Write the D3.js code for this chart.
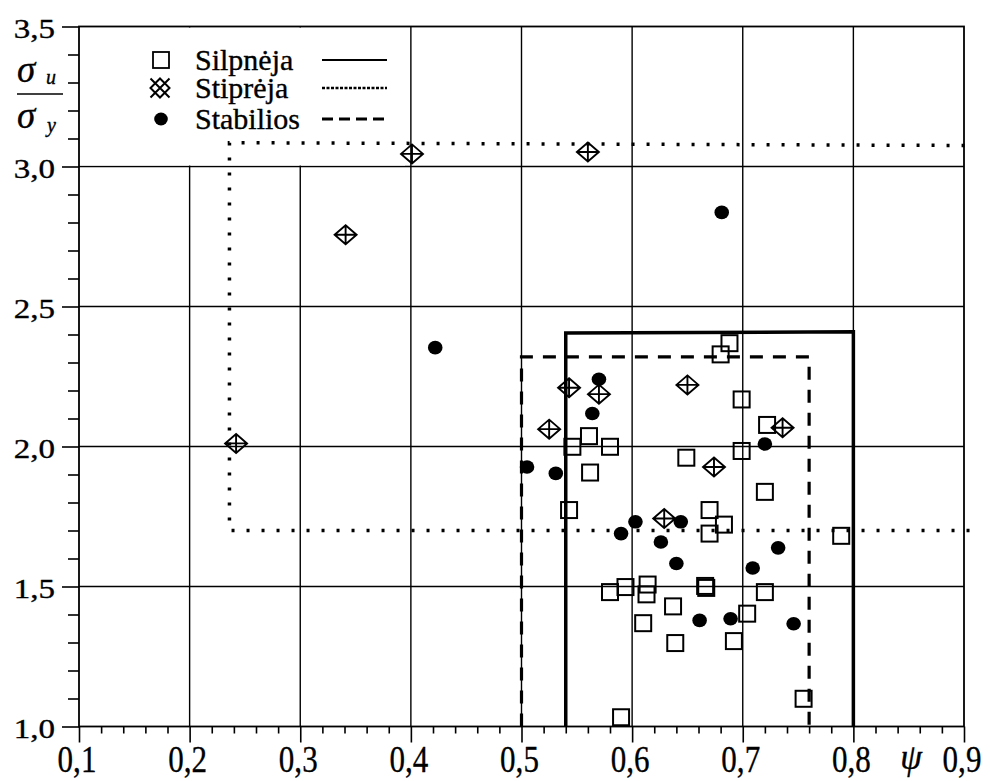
<!DOCTYPE html>
<html>
<head>
<meta charset="utf-8">
<script src="https://cdn.jsdelivr.net/npm/d3@7"></script>
<style>
  body { margin: 0; background: #fff; }
</style>
</head>
<body>
<svg id="chart" width="990" height="781" font-family="'Liberation Serif', 'DejaVu Serif', serif"></svg>
<script>
// Axis ticks
const xMajorTicks = [0.1, 0.2, 0.3, 0.4, 0.5, 0.6, 0.7, 0.8, 0.9];
const yMajorTicks = [1.0, 1.5, 2.0, 2.5, 3.0, 3.5];
const xMinorTicks = [0.12,0.14,0.16,0.18,0.22,0.24,0.26,0.28,0.32,0.34,0.36,0.38,0.42,0.44,0.46,0.48,
                     0.52,0.54,0.56,0.58,0.62,0.64,0.66,0.68,0.72,0.74,0.76,0.78,0.82,0.84,0.86,0.88];
const yMinorTicks = [1.1,1.2,1.3,1.4,1.6,1.7,1.8,1.9,2.1,2.2,2.3,2.4,2.6,2.7,2.8,2.9,3.1,3.2,3.3,3.4];

// Series: [psi, sigma_u / sigma_y]
const silpneja = [
  [0.543, 1.773], [0.561, 2.037], [0.546, 1.999], [0.580, 1.999], [0.562, 1.907],
  [0.688, 2.369], [0.680, 2.329], [0.699, 2.168], [0.722, 2.077], [0.699, 1.984],
  [0.649, 1.960], [0.720, 1.838], [0.670, 1.773], [0.683, 1.721], [0.670, 1.689],
  [0.789, 1.681], [0.666, 1.502], [0.667, 1.495], [0.720, 1.480], [0.704, 1.403],
  [0.692, 1.305], [0.755, 1.099], [0.580, 1.480], [0.594, 1.498], [0.614, 1.507],
  [0.613, 1.472], [0.637, 1.429], [0.610, 1.369], [0.639, 1.298], [0.590, 1.033]
];
const stipreja = [
  [0.242, 2.011], [0.341, 2.756], [0.401, 3.045], [0.560, 3.052], [0.543, 2.210],
  [0.570, 2.187], [0.525, 2.062], [0.650, 2.220], [0.736, 2.067], [0.674, 1.927],
  [0.629, 1.743]
];
const stabilios = [
  [0.422, 2.353], [0.681, 2.836], [0.570, 2.240], [0.564, 2.118], [0.505, 1.927],
  [0.531, 1.904], [0.720, 2.009], [0.603, 1.731], [0.644, 1.731], [0.590, 1.689],
  [0.626, 1.659], [0.732, 1.638], [0.640, 1.582], [0.709, 1.566], [0.661, 1.379],
  [0.689, 1.385], [0.746, 1.367]
];

// Region boundaries
const silpnejaBound  = [[0.54, 1.0], [0.54, 2.405], [0.80, 2.41], [0.80, 1.0]];
const stabiliosBound = [[0.50, 1.0], [0.50, 2.32], [0.76, 2.32], [0.76, 1.0]];
const stiprejaBound  = [[0.905, 1.70], [0.236, 1.70], [0.236, 3.085], [0.905, 3.075]];

const legendNames = ["Silpnėja", "Stiprėja", "Stabilios"];

const FONT = "'Liberation Serif', 'DejaVu Serif', serif";
const svg = d3.select("#chart");
const x = d3.scaleLinear().domain([0.1, 0.9]).range([79, 964]);
const y = d3.scaleLinear().domain([1.0, 3.5]).range([726.5, 26.5]);
const fmt = v => d3.format(".1f")(v).replace(".", ",");

// grid
const grid = svg.append("g").attr("stroke", "#000").attr("stroke-width", 1.4);
grid.selectAll("line.v").data(xMajorTicks.slice(1, -1)).join("line")
  .attr("x1", d => x(d)).attr("x2", d => x(d))
  .attr("y1", y(1.0)).attr("y2", y(3.5));
grid.selectAll("line.h").data(yMajorTicks.slice(1, -1)).join("line")
  .attr("x1", x(0.1)).attr("x2", x(0.9))
  .attr("y1", d => y(d)).attr("y2", d => y(d));

// legend background
svg.append("rect").attr("x", x(0.1) + 1).attr("y", y(3.5) + 1)
  .attr("width", 325).attr("height", y(3.0) - y(3.5) - 2).attr("fill", "#fff");

// axes: ticks
const xMajAxis = d3.axisBottom(x).tickValues(xMajorTicks).tickSize(16).tickFormat("");
const xMinAxis = d3.axisBottom(x).tickValues(xMinorTicks).tickSize(7).tickFormat("");
const yMajAxis = d3.axisLeft(y).tickValues(yMajorTicks).tickSize(17).tickFormat("");
const yMinAxis = d3.axisLeft(y).tickValues(yMinorTicks).tickSize(11).tickFormat("");
[xMajAxis, xMinAxis].forEach(a => svg.append("g").attr("transform", `translate(0,${y(1.0)})`).call(a));
[yMajAxis, yMinAxis].forEach(a => svg.append("g").attr("transform", `translate(${x(0.1)},0)`).call(a));
svg.selectAll(".domain").remove();
svg.selectAll(".tick line").attr("stroke", "#000").attr("stroke-width", 1.6);

// frame
svg.append("rect").attr("x", x(0.1)).attr("y", y(3.5))
  .attr("width", x(0.9) - x(0.1)).attr("height", y(1.0) - y(3.5))
  .attr("fill", "none").attr("stroke", "#000").attr("stroke-width", 1.8);

const txt = (sel) => sel.attr("font-family", FONT).attr("fill", "#000")
  .attr("stroke", "#000").attr("stroke-width", 0.35);

// tick labels
svg.selectAll("text.xl").data(xMajorTicks).join("text").call(txt)
  .attr("transform", d => `translate(${x(d) - 2},772) scale(0.84,1)`)
  .attr("text-anchor", "middle").attr("font-size", 37).text(fmt);
svg.selectAll("text.yl").data(yMajorTicks).join("text").call(txt)
  .attr("transform", d => `translate(55,${y(d) + 11.5}) scale(1.2,1)`)
  .attr("text-anchor", "end").attr("font-size", 27.5).text(fmt);

// axis titles
svg.append("text").call(txt).attr("x", 911).attr("y", 769).attr("text-anchor", "middle")
  .attr("font-size", 35).attr("font-style", "italic").text("ψ");
svg.append("text").call(txt).attr("x", 17).attr("y", 82).attr("font-size", 37).attr("font-style", "italic").text("σ");
svg.append("text").call(txt).attr("x", 46).attr("y", 84).attr("font-size", 20).attr("font-style", "italic").text("u");
svg.append("line").attr("x1", 17).attr("x2", 63).attr("y1", 94).attr("y2", 94)
  .attr("stroke", "#000").attr("stroke-width", 1.6);
svg.append("text").call(txt).attr("x", 17).attr("y", 128).attr("font-size", 37).attr("font-style", "italic").text("σ");
svg.append("text").call(txt).attr("x", 47).attr("y", 132).attr("font-size", 20).attr("font-style", "italic").text("y");

// boundary lines
const line = d3.line().x(d => x(d[0])).y(d => y(d[1]));
svg.append("path").attr("d", line(stiprejaBound)).attr("fill", "none")
  .attr("stroke", "#000").attr("stroke-width", 3.5).attr("stroke-dasharray", "3,12");
svg.append("path").attr("d", line(stabiliosBound)).attr("fill", "none")
  .attr("stroke", "#000").attr("stroke-width", 3.2).attr("stroke-dasharray", "13,10");
svg.append("path").attr("d", line(silpnejaBound)).attr("fill", "none")
  .attr("stroke", "#000").attr("stroke-width", 3.5);

// markers
const sq = 16;
svg.append("g").selectAll("rect").data(silpneja).join("rect")
  .attr("x", d => x(d[0]) - sq / 2).attr("y", d => y(d[1]) - sq / 2)
  .attr("width", sq).attr("height", sq)
  .attr("fill", "none").attr("stroke", "#000").attr("stroke-width", 2);

const dw = 11, dh = 9.5;
const diamondPath = `M0,${-dh}L${dw},0L0,${dh}L${-dw},0Z M0,${-dh}V${dh} M${-dw},0H${dw}`;
svg.append("g").selectAll("path").data(stipreja).join("path")
  .attr("transform", d => `translate(${x(d[0])},${y(d[1])})`)
  .attr("d", diamondPath).attr("fill", "none").attr("stroke", "#000").attr("stroke-width", 1.9);

svg.append("g").selectAll("ellipse").data(stabilios).join("ellipse")
  .attr("cx", d => x(d[0])).attr("cy", d => y(d[1]))
  .attr("rx", 7.3).attr("ry", 6.8).attr("fill", "#000");

// legend
const lg = svg.append("g");
const rowsY = [60, 88, 119];
lg.append("rect").attr("x", 153).attr("y", rowsY[0] - 8).attr("width", 16).attr("height", 16)
  .attr("fill", "none").attr("stroke", "#000").attr("stroke-width", 1.8);
const s = 9.5;
lg.append("path").attr("transform", `translate(160,${rowsY[1]})`)
  .attr("d", `M${-s},${-s}L${s},${s}M${s},${-s}L${-s},${s}M0,${-s}L${s},0L0,${s}L${-s},0Z`)
  .attr("fill", "none").attr("stroke", "#000").attr("stroke-width", 2);
lg.append("ellipse").attr("cx", 161).attr("cy", rowsY[2]).attr("rx", 6.8).attr("ry", 6.5).attr("fill", "#000");
lg.selectAll("text").data(legendNames).join("text").call(txt)
  .attr("x", 195).attr("y", (d, i) => rowsY[i] + 10).attr("font-size", 30).text(d => d);
const dashes = [null, "3,1.5", "11,6"];
const widths = [2, 2.6, 3];
lg.selectAll("line").data(dashes).join("line")
  .attr("x1", 322).attr("x2", 387).attr("y1", (d, i) => rowsY[i]).attr("y2", (d, i) => rowsY[i])
  .attr("stroke", "#000").attr("stroke-width", (d, i) => widths[i])
  .attr("stroke-dasharray", d => d);
</script>
</body>
</html>
